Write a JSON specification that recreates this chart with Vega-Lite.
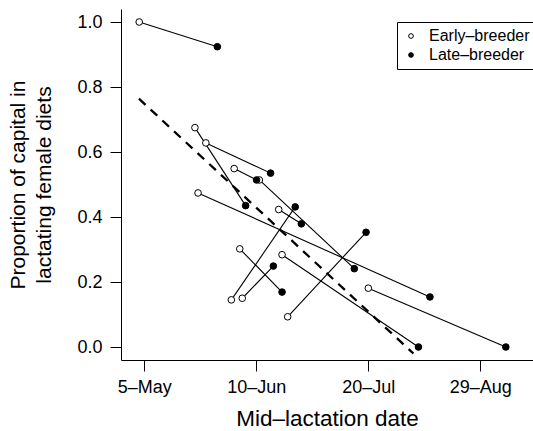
{
  "$schema": "https://vega.github.io/schema/vega-lite/v6.json",
  "autosize": "none",
  "padding": {"left": 121, "top": 9, "right": 0, "bottom": 71},
  "width": 412,
  "height": 351,
  "background": "white",
  "config": {
    "view": {"stroke": null},
    "font": "Liberation Sans",
    "axis": {
      "domainColor": "black",
      "domainWidth": 1,
      "tickColor": "black",
      "tickWidth": 1,
      "tickSize": 11,
      "grid": false,
      "labelColor": "black",
      "titleColor": "black",
      "labelFont": "Liberation Sans",
      "titleFont": "Liberation Sans",
      "titleFontWeight": "normal"
    }
  },
  "datasets": {
    "pairs": [
      {"pair": 1, "group": "Early–breeder", "day": -1.8, "prop": 1.0},
      {"pair": 1, "group": "Late–breeder", "day": 26.1, "prop": 0.924},
      {"pair": 2, "group": "Early–breeder", "day": 18.1, "prop": 0.675},
      {"pair": 2, "group": "Late–breeder", "day": 36.2, "prop": 0.435},
      {"pair": 3, "group": "Early–breeder", "day": 22.0, "prop": 0.628},
      {"pair": 3, "group": "Late–breeder", "day": 45.1, "prop": 0.535},
      {"pair": 4, "group": "Early–breeder", "day": 32.1, "prop": 0.549},
      {"pair": 4, "group": "Late–breeder", "day": 40.1, "prop": 0.514},
      {"pair": 5, "group": "Early–breeder", "day": 41.1, "prop": 0.514},
      {"pair": 5, "group": "Late–breeder", "day": 75.0, "prop": 0.241},
      {"pair": 6, "group": "Early–breeder", "day": 48.0, "prop": 0.423},
      {"pair": 6, "group": "Late–breeder", "day": 56.1, "prop": 0.379},
      {"pair": 7, "group": "Early–breeder", "day": 19.2, "prop": 0.474},
      {"pair": 7, "group": "Late–breeder", "day": 102.0, "prop": 0.154},
      {"pair": 8, "group": "Early–breeder", "day": 31.1, "prop": 0.145},
      {"pair": 8, "group": "Late–breeder", "day": 53.9, "prop": 0.431},
      {"pair": 9, "group": "Early–breeder", "day": 34.1, "prop": 0.302},
      {"pair": 9, "group": "Late–breeder", "day": 49.2, "prop": 0.169},
      {"pair": 10, "group": "Early–breeder", "day": 35.0, "prop": 0.150},
      {"pair": 10, "group": "Late–breeder", "day": 46.1, "prop": 0.249},
      {"pair": 11, "group": "Early–breeder", "day": 49.2, "prop": 0.284},
      {"pair": 11, "group": "Late–breeder", "day": 97.9, "prop": 0.0},
      {"pair": 12, "group": "Early–breeder", "day": 51.2, "prop": 0.093},
      {"pair": 12, "group": "Late–breeder", "day": 79.2, "prop": 0.353},
      {"pair": 13, "group": "Early–breeder", "day": 80.0, "prop": 0.181},
      {"pair": 13, "group": "Late–breeder", "day": 129.1, "prop": 0.0}
    ],
    "fit": [
      {"day": -1.9, "prop": 0.764},
      {"day": 96.1, "prop": -0.02}
    ]
  },
  "encoding": {
    "x": {
      "field": "day",
      "type": "quantitative",
      "scale": {"domain": [-8.3, 138.8], "nice": false, "zero": false},
      "axis": {
        "title": "Mid–lactation date",
        "values": [0, 40, 80, 120],
        "labelExpr": "datum.value == 0 ? '5–May' : datum.value == 40 ? '10–Jun' : datum.value == 80 ? '20–Jul' : '29–Aug'",
        "labelFontSize": 18,
        "labelPadding": 7,
        "titleFontSize": 22.5,
        "titlePadding": 11
      }
    },
    "y": {
      "field": "prop",
      "type": "quantitative",
      "scale": {"domain": [-0.04, 1.04], "nice": false, "zero": false},
      "axis": {
        "title": ["Proportion of capital in", "lactating female diets"],
        "values": [0, 0.2, 0.4, 0.6, 0.8, 1.0],
        "format": ".1f",
        "labelFontSize": 18,
        "labelPadding": 8,
        "titleFontSize": 21,
        "titleLineHeight": 26,
        "titlePadding": 22
      }
    }
  },
  "layer": [
    {
      "data": {"name": "fit"},
      "mark": {"type": "line", "color": "black", "strokeWidth": 2.3, "strokeDash": [9, 7]},
      "encoding": {}
    },
    {
      "data": {"name": "pairs"},
      "mark": {"type": "line", "color": "black", "strokeWidth": 1.1},
      "encoding": {"detail": {"field": "pair", "type": "nominal"}}
    },
    {
      "data": {"name": "pairs"},
      "mark": {"type": "point", "shape": "circle", "filled": true, "stroke": "black", "strokeWidth": 1, "size": 44, "opacity": 1},
      "encoding": {
        "fill": {
          "field": "group",
          "type": "nominal",
          "scale": {"domain": ["Early–breeder", "Late–breeder"], "range": ["white", "black"]},
          "legend": {
            "title": null,
            "orient": "none",
            "legendX": 276,
            "legendY": 13,
            "strokeColor": "black",
            "fillColor": "white",
            "padding": 6,
            "labelFontSize": 16,
            "labelColor": "black",
            "labelFont": "Liberation Sans",
            "symbolType": "circle",
            "symbolSize": 22,
            "symbolStrokeColor": "black",
            "symbolStrokeWidth": 1,
            "labelOffset": 10,
            "rowPadding": 3
          }
        },
        "order": {"field": "group", "type": "nominal"}
      }
    }
  ]
}
